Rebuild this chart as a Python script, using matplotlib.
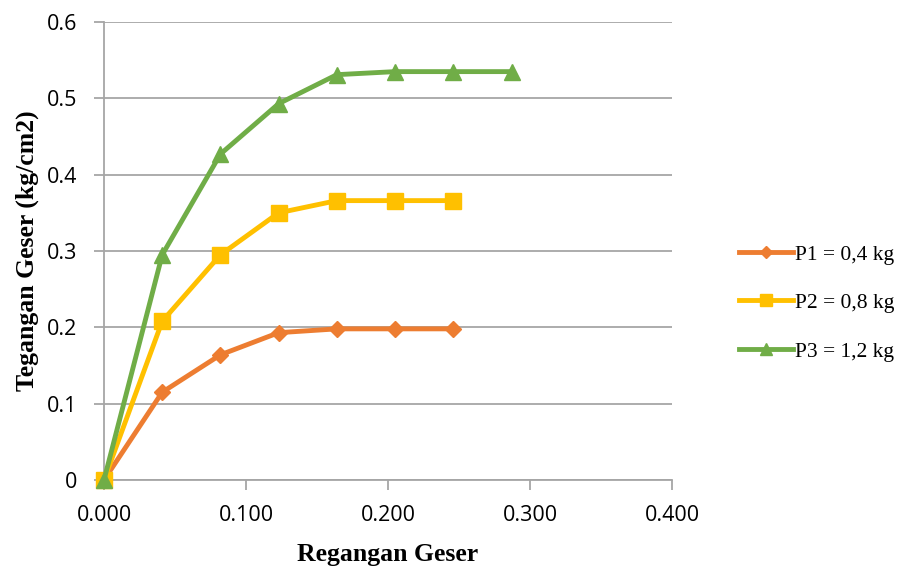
import matplotlib
matplotlib.use("Agg")
import matplotlib.pyplot as plt
from matplotlib.lines import Line2D

x = [0.000, 0.041, 0.082, 0.123, 0.164, 0.205, 0.246, 0.287]
p1 = [0.000, 0.115, 0.164, 0.193, 0.198, 0.198, 0.198]
p2 = [0.000, 0.208, 0.295, 0.350, 0.366, 0.366, 0.366]
p3 = [0.000, 0.295, 0.427, 0.493, 0.531, 0.535, 0.535, 0.535]
labels = ["P1 = 0,4 kg", "P2 = 0,8 kg", "P3 = 1,2 kg"]
colors = ["#ED7D31", "#FFC000", "#70AD47"]
markers = ["D", "s", "^"]
msizes = [8, 12, 12]
xticks = [0.0, 0.1, 0.2, 0.3, 0.4]
yticks = [0, 0.1, 0.2, 0.3, 0.4, 0.5, 0.6]

fig = plt.figure(figsize=(9.01, 5.67), dpi=100)
ax = fig.add_axes([104/901, 1-480/567, (672-104)/901, (480-22)/567])

series = [p1, p2, p3]
for s, lab, c, m, ms in zip(series, labels, colors, markers, msizes):
    ax.plot(x[:len(s)], s, color=c, marker=m, markersize=ms, linewidth=3.5,
            label=lab, clip_on=False, zorder=3)

ax.set_xlim(0, 0.4)
ax.set_ylim(0, 0.6)
ax.set_xticks(xticks)
ax.set_xticklabels([f"{v:.3f}" for v in xticks])
ax.set_yticks(yticks)
ax.set_yticklabels(["0", "0.1", "0.2", "0.3", "0.4", "0.5", "0.6"])
ax.grid(axis="y", color="#A6A6A6", linewidth=1.3)
ax.set_axisbelow(True)
for sp in ["top", "right"]:
    ax.spines[sp].set_visible(False)
for sp in ["left", "bottom"]:
    ax.spines[sp].set_color("#A6A6A6")
    ax.spines[sp].set_linewidth(1.3)
ax.tick_params(axis="both", colors="#A6A6A6", length=7, width=1.3, labelcolor="black",
               labelsize=15.5)
for t in ax.get_xticklabels() + ax.get_yticklabels():
    t.set_fontfamily("Open Sans")
ax.tick_params(axis="x", pad=11)
ax.tick_params(axis="y", pad=12)

ax.set_xlabel("Regangan Geser", fontfamily="Liberation Serif", fontweight="bold",
              fontsize=18.5, labelpad=12)
ax.set_ylabel("Tegangan Geser (kg/cm2)", fontfamily="Liberation Serif", fontweight="bold",
              fontsize=18.5, labelpad=6)

handles = [Line2D([0], [0], color=c, marker=m, markersize=ms*0.75, linewidth=3.5)
           for c, m, ms in zip(colors, markers, msizes)]
fig.legend(handles, labels, loc="center left", bbox_to_anchor=(739/901, 1-303/567),
           frameon=False, prop={"family": "Liberation Serif", "size": 15.5},
           handlelength=2.5, handletextpad=0.12, labelspacing=1.32, borderpad=0,
           borderaxespad=0)

fig.savefig("out.png", dpi=100)
